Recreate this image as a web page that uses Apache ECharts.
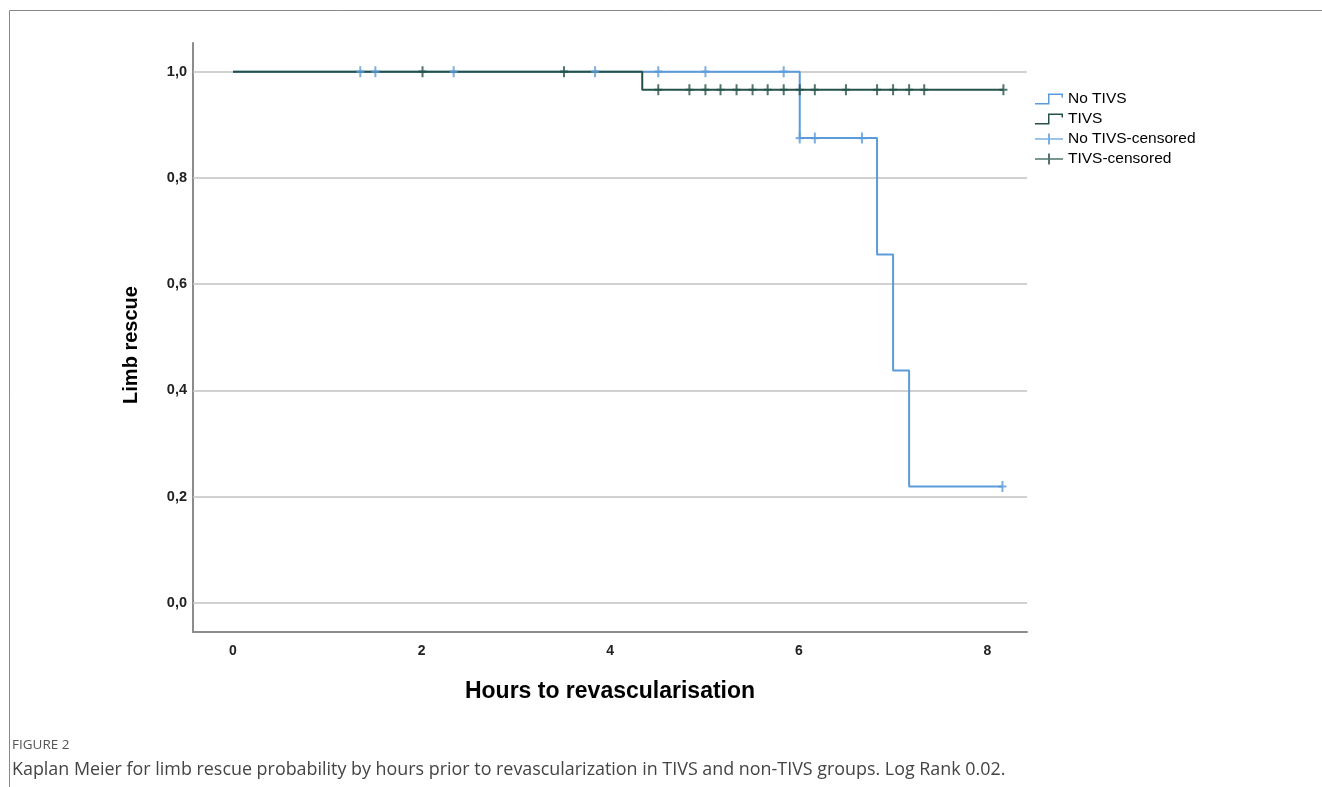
<!DOCTYPE html>
<html>
<head>
<meta charset="utf-8">
<script src="https://cdn.jsdelivr.net/npm/echarts@6/dist/echarts.min.js"></script>
<style>
html, body { margin: 0; padding: 0; background: #fff; }
#main { width: 1322px; height: 787px; }
</style>
</head>
<body>
<div id="main"></div>
<script>
// step curves (hours, probability of limb rescue)
var noTivsTimes = [0, 6.01, 6.83, 7.0, 7.17, 8.16];
var noTivsSurv  = [1, 0.875, 0.656, 0.4375, 0.219, 0.219];
var tivsTimes = [0, 4.34, 8.17];
var tivsSurv  = [1, 0.966, 0.966];

// censored cases
var noTivsCensTimes = [1.35, 1.51, 2.34, 3.84, 4.51, 5.01, 5.84, 6.01, 6.17, 6.67, 8.16];
var noTivsCensSurv  = [1, 1, 1, 1, 1, 1, 1, 0.875, 0.875, 0.875, 0.219];
var tivsCensTimes = [2.01, 3.51, 4.51, 4.84, 5.01, 5.17, 5.34, 5.51, 5.67, 5.84, 6.01, 6.17, 6.5, 6.83, 7.0, 7.17, 7.33, 8.17];
var tivsCensSurv  = [1, 1, 0.966, 0.966, 0.966, 0.966, 0.966, 0.966, 0.966, 0.966, 0.966, 0.966, 0.966, 0.966, 0.966, 0.966, 0.966, 0.966];

var xTicks = [0, 2, 4, 6, 8];
var yTicks = [0, 0.2, 0.4, 0.6, 0.8, 1.0];

var blue = '#5b9bd9';
var dark = '#24524a';
var plus = 'path://M3,0H5V4H8V6H5V10H3V6H0V4H3Z';
var stepIcon = 'path://M0,9.5H13V0H28V4H26.5V1.5H14.5V11H0Z';
var censIcon = 'path://M0,4.8H13V0H15V4.8H28V6.2H15V11H13V6.2H0Z';

function pairs(a, b) {
  var out = [];
  for (var i = 0; i < a.length; i++) out.push([a[i], b[i]]);
  return out;
}
function isTick(list, v) {
  for (var i = 0; i < list.length; i++) if (Math.abs(list[i] - v) < 1e-6) return true;
  return false;
}

var myChart = echarts.init(document.getElementById('main'));
myChart.setOption({
  animation: false,
  backgroundColor: '#fff',
  grid: { left: 193, right: 295, top: 43, bottom: 155, containLabel: false, outerBoundsMode: 'none' },
  legend: {
    orient: 'vertical',
    left: 1030,
    top: 86,
    itemWidth: 28,
    itemHeight: 11,
    itemGap: 4,
    textStyle: { fontFamily: 'Liberation Sans', fontSize: 15.5, color: '#000', lineHeight: 15 },
    data: [
      { name: 'No TIVS', icon: stepIcon, itemStyle: { color: blue } },
      { name: 'TIVS', icon: stepIcon, itemStyle: { color: dark } },
      { name: 'No TIVS-censored', icon: censIcon, itemStyle: { color: blue } },
      { name: 'TIVS-censored', icon: censIcon, itemStyle: { color: dark } }
    ]
  },
  xAxis: {
    type: 'value',
    min: -0.424,
    max: 8.42,
    name: 'Hours to revascularisation',
    nameLocation: 'middle',
    nameGap: 48,
    nameTextStyle: { fontFamily: 'Liberation Sans', fontSize: 23, fontWeight: 'bold', color: '#000' },
    axisLine: { onZero: false, lineStyle: { color: '#8c8c8c', width: 2 } },
    axisTick: { show: false },
    splitLine: { show: false },
    axisLabel: {
      margin: 12,
      fontFamily: 'Liberation Sans', fontSize: 14, fontWeight: 'bold', color: '#222',
      showMinLabel: true, showMaxLabel: true,
      formatter: function (v) { return isTick(xTicks, v) ? String(Math.round(v)) : ''; }
    }
  },
  yAxis: {
    type: 'value',
    min: -0.055,
    max: 1.054,
    axisLine: { show: true, onZero: false, lineStyle: { color: '#8c8c8c', width: 2 } },
    axisTick: { show: false },
    splitLine: { show: false },
    axisLabel: {
      margin: 6,
      fontFamily: 'Liberation Sans', fontSize: 14.5, fontWeight: 'bold', color: '#222',
      formatter: function (v) { return isTick(yTicks, v) ? Math.abs(v).toFixed(1).replace('.', ',') : ''; }
    }
  },
  graphic: [
    { type: 'line', shape: { x1: 9.5, y1: 10.5, x2: 1322, y2: 10.5 }, style: { stroke: '#888', lineWidth: 1 }, silent: true },
    { type: 'line', shape: { x1: 9.5, y1: 10.5, x2: 9.5, y2: 787 }, style: { stroke: '#888', lineWidth: 1 }, silent: true },
    { type: 'text', x: 131, y: 345, rotation: Math.PI / 2,
      style: { text: 'Limb rescue', font: 'bold 20px "Liberation Sans"', fill: '#000', align: 'center', verticalAlign: 'middle' } },
    { type: 'text', x: 12, y: 745,
      style: { text: 'FIGURE 2', font: '13.5px "Open Sans"', fill: '#555', verticalAlign: 'middle' } },
    { type: 'text', x: 12, y: 770,
      style: { text: 'Kaplan Meier for limb rescue probability by hours prior to revascularization in TIVS and non-TIVS groups. Log Rank 0.02.',
        font: '17.9px "Open Sans"', fill: '#444', verticalAlign: 'middle' } }
  ],
  series: [
    {
      name: 'No TIVS',
      type: 'line',
      step: 'end',
      symbol: 'none',
      z: 2,
      lineStyle: { color: blue, width: 2 },
      itemStyle: { color: blue },
      data: pairs(noTivsTimes, noTivsSurv),
      markLine: {
        silent: true,
        z: 1,
        symbol: 'none',
        label: { show: false },
        lineStyle: { color: '#c2c2c2', width: 1.5, type: 'solid' },
        data: yTicks.map(function (v) { return { yAxis: v }; })
      }
    },
    {
      name: 'TIVS',
      type: 'line',
      step: 'end',
      symbol: 'none',
      z: 3,
      lineStyle: { color: dark, width: 2 },
      itemStyle: { color: dark },
      data: pairs(tivsTimes, tivsSurv)
    },
    {
      name: 'No TIVS-censored',
      type: 'scatter',
      symbol: plus,
      symbolSize: [8, 11],
      z: 4,
      itemStyle: { color: blue },
      data: pairs(noTivsCensTimes, noTivsCensSurv)
    },
    {
      name: 'TIVS-censored',
      type: 'scatter',
      symbol: plus,
      symbolSize: [8, 11],
      z: 5,
      itemStyle: { color: dark },
      data: pairs(tivsCensTimes, tivsCensSurv)
    }
  ]
});
</script>
</body>
</html>
